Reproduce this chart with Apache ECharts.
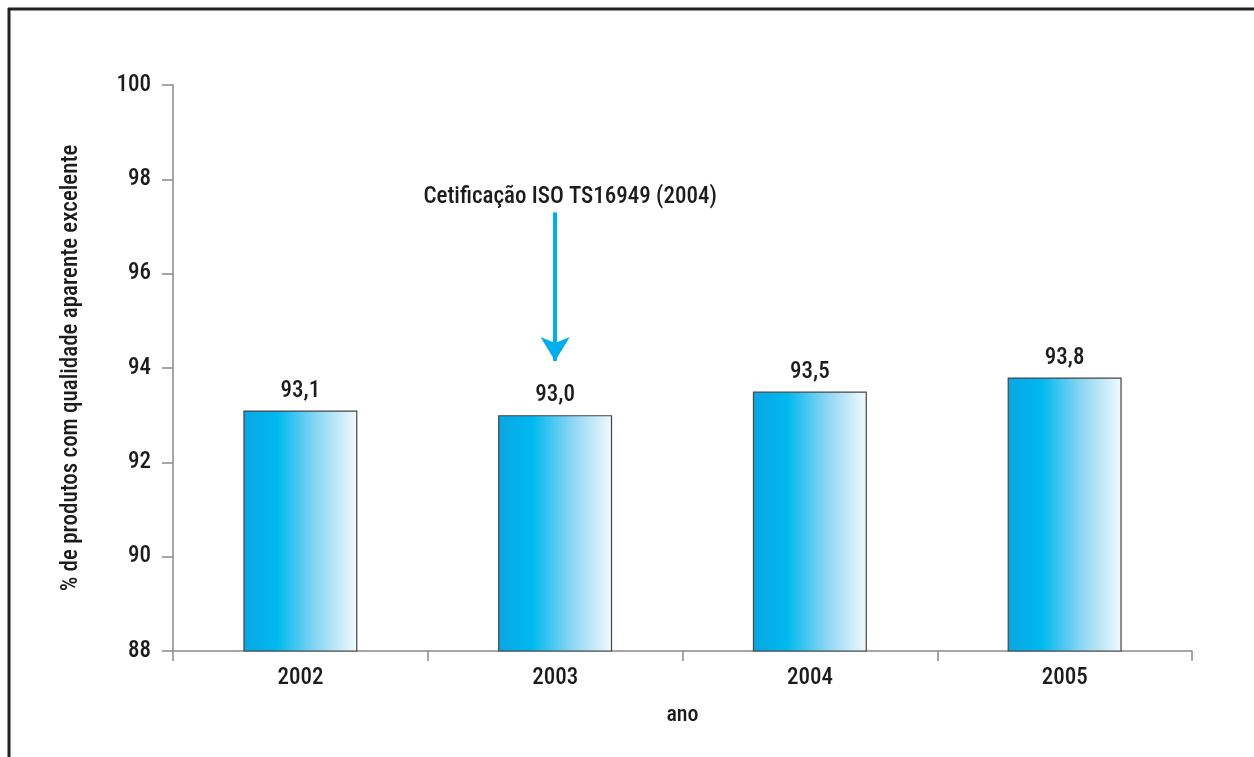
<!DOCTYPE html>
<html>
<head>
<meta charset="utf-8">
<script src="https://cdn.jsdelivr.net/npm/echarts@6/dist/echarts.min.js"></script>
<style>
  html, body { margin: 0; padding: 0; background: #fff; }
  #chart { width: 1254px; height: 757px; }
</style>
</head>
<body>
<div id="chart"></div>
<script>
// Anos e percentagens de produtos com qualidade aparente excelente
const anos = ['2002', '2003', '2004', '2005'];
const percentagens = [93.1, 93.0, 93.5, 93.8];
const yTicks = { min: 88, max: 100, interval: 2 };
// Nota de certificação: ano onde a seta aponta e alturas (valores do eixo) da seta
const notaTexto = 'Cetificação ISO TS16949 (2004)';
const notaAno = '2003';
const notaTopo = 97.3;
const notaPonta = 94.15;
const notaTextoY = 97.62;

const FONT = '"Roboto Condensed", "Liberation Sans Narrow", "Liberation Sans", Arial, sans-serif';
const W = 500;
const TXT = '#1c1c1c';
const chart = echarts.init(document.getElementById('chart'));

const barFill = new echarts.graphic.LinearGradient(0, 0, 1, 0, [
  { offset: 0, color: '#0aa6e2' },
  { offset: 0.3, color: '#00b9ef' },
  { offset: 0.65, color: '#8dd6f3' },
  { offset: 1, color: '#f2fafe' }
]);

chart.setOption({
  animation: false,
  backgroundColor: '#fff',
  grid: { left: 173, right: 62, top: 85, bottom: 106 },
  xAxis: {
    type: 'category',
    data: anos,
    name: 'ano',
    nameLocation: 'middle',
    nameGap: 53,
    nameTextStyle: { fontFamily: FONT, fontWeight: W, fontSize: 22, color: TXT },
    axisLine: { lineStyle: { color: '#8a8a8a', width: 1.5 } },
    axisTick: { show: true, length: 10, lineStyle: { color: '#8a8a8a', width: 1.5 } },
    axisLabel: { fontFamily: FONT, fontWeight: W, fontSize: 23, color: TXT, margin: 16 }
  },
  yAxis: {
    type: 'value',
    min: yTicks.min,
    max: yTicks.max,
    interval: yTicks.interval,
    name: '% de produtos com qualidade aparente excelente',
    nameLocation: 'middle',
    nameGap: 90,
    nameRotate: 90,
    nameTextStyle: { fontFamily: FONT, fontWeight: W, fontSize: 23, color: TXT },
    axisLine: { show: true, lineStyle: { color: '#8a8a8a', width: 1.5 } },
    axisTick: { show: true, length: 11, lineStyle: { color: '#8a8a8a', width: 1.5 } },
    axisLabel: { fontFamily: FONT, fontWeight: W, fontSize: 23, color: TXT, margin: 22 },
    splitLine: { show: false }
  },
  series: [{
    type: 'bar',
    data: percentagens,
    barWidth: 114,
    itemStyle: { color: barFill, borderColor: '#444', borderWidth: 1.2 },
    label: {
      show: true,
      position: 'top',
      distance: 8,
      fontFamily: FONT,
      fontWeight: W,
      fontSize: 23,
      color: TXT,
      formatter: p => p.value.toFixed(1).replace('.', ',')
    },
    markLine: {
      silent: true,
      symbol: ['none', 'arrow'],
      symbolSize: [22, 24],
      lineStyle: { color: '#00aeef', width: 4, type: 'solid' },
      label: { show: false },
      data: [[
        { coord: [notaAno, notaTopo] },
        { coord: [notaAno, notaPonta] }
      ]]
    },
    markPoint: {
      silent: true,
      symbol: 'rect',
      symbolSize: 1,
      itemStyle: { color: 'rgba(0,0,0,0)' },
      label: {
        show: true,
        position: 'inside',
        offset: [15, 0],
        fontFamily: FONT,
        fontWeight: W,
        fontSize: 23,
        color: TXT,
        formatter: notaTexto
      },
      data: [{ coord: [notaAno, notaTextoY] }]
    }
  }],
  graphic: [
    { type: 'line', shape: { x1: 8, y1: 9, x2: 1254, y2: 9 }, style: { stroke: '#222', lineWidth: 3 } },
    { type: 'line', shape: { x1: 9, y1: 8, x2: 9, y2: 757 }, style: { stroke: '#222', lineWidth: 3 } }
  ]
});
</script>
</body>
</html>
